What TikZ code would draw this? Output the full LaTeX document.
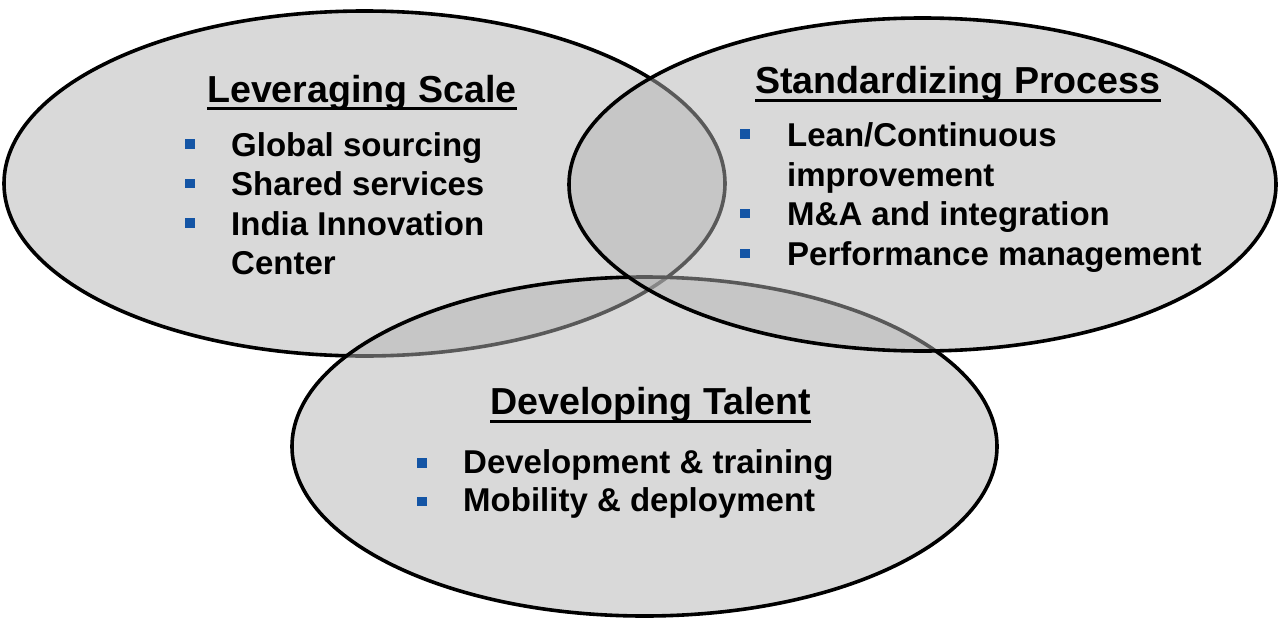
\documentclass[tikz,border=0pt]{standalone}
\usepackage{fontspec}
\setmainfont{Liberation Sans}
\begin{document}
\definecolor{ringfill}{RGB}{179,179,179}
\definecolor{bulletblue}{RGB}{20,85,165}
\begin{tikzpicture}[x=1pt,y=-1pt,
  ring/.style={draw=black,line width=3.6pt,fill=ringfill,fill opacity=0.5},
  heading/.style={inner sep=0pt,anchor=base west,font=\fontsize{37.6}{45}\selectfont\bfseries},
  item/.style={inner sep=0pt,anchor=base west,font=\fontsize{33}{40}\selectfont\bfseries},
  sq/.style={fill=bulletblue,inner sep=0pt,minimum size=9.5pt},
  rule/.style={line width=3pt}]
\useasboundingbox (0,0) rectangle (1283,621);

% the three overlapping circles of activity
\draw[ring] (364.5,183.5) ellipse [x radius=360.5pt, y radius=172.5pt];
\draw[ring] (644.5,446.5) ellipse [x radius=352.5pt, y radius=169.5pt];
\draw[ring] (922.5,184.5) ellipse [x radius=353.5pt, y radius=166.5pt];

% Leveraging Scale
\node[heading] (hs) at (207,102) {Leveraging Scale};
\draw[rule] ([yshift=-6.5pt]hs.base west) -- ([yshift=-6.5pt]hs.base east);
\node[sq] (s1) at (190,144) {};
\node[sq] (s2) at (190,183.5) {};
\node[sq] (s3) at (190,223) {};
\node[item] (i1) at (231,156) {Global sourcing};
\node[item] (i2) at (231,195.5) {Shared services};
\node[item] (i3) at (231,235) {India Innovation};
\node[item] (i4) at (231,274.5) {Center};

% Standardizing Process
\node[heading] (hp) at (755,93.5) {Standardizing Process};
\draw[rule] ([yshift=-6.5pt]hp.base west) -- ([yshift=-6.5pt]hp.base east);
\node[sq] (p1) at (745,134) {};
\node[sq] (p2) at (745,213.5) {};
\node[sq] (p3) at (745,253.5) {};
\node[item] (j1) at (787,146) {Lean/Continuous};
\node[item] (j2) at (787,186) {improvement};
\node[item] (j3) at (787,225.5) {M\&A and integration};
\node[item] (j4) at (787,265.5) {Performance management};

% Developing Talent
\node[heading] (ht) at (490,414) {Developing Talent};
\draw[rule] ([yshift=-7pt]ht.base west) -- ([yshift=-7pt]ht.base east);
\node[sq] (t1) at (422,463) {};
\node[sq] (t2) at (422,501.5) {};
\node[item] (k1) at (463,473) {Development \& training};
\node[item] (k2) at (463,511.5) {Mobility \& deployment};
\end{tikzpicture}
\end{document}
